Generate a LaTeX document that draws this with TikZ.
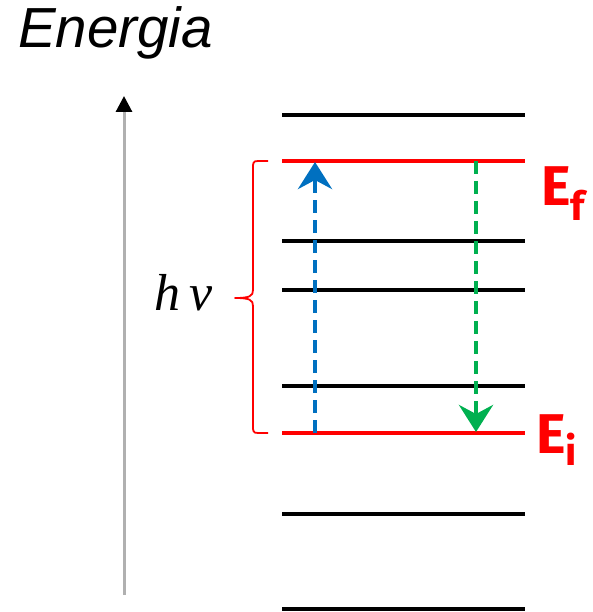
\documentclass[tikz,border=0pt]{standalone}
\usepackage{fontspec}
\setmainfont{Liberation Sans}
\newfontfamily\labfont{Fira Sans}
\newfontfamily\hnufont{Liberation Serif}
\usetikzlibrary{arrows.meta}
\definecolor{axisgray}{RGB}{176,176,176}
\definecolor{lvred}{RGB}{255,0,0}
\definecolor{absblue}{RGB}{0,112,192}
\definecolor{emgreen}{RGB}{0,176,80}
\tikzset{
  level/.style={line width=4pt, black},
  redlevel/.style={line width=4pt, lvred},
  transition/.style={line width=4.5pt, dash pattern=on 13pt off 7pt,
    -{Stealth[length=27pt,width=34pt,inset=9pt]}},
  elabel/.style={text=lvred, inner sep=0pt, font=\labfont\bfseries\fontsize{56}{60}\selectfont}
}
\begin{document}
\begin{tikzpicture}[x=1pt,y=-1pt]
\useasboundingbox (0,0) rectangle (592,612);
% levels
\foreach \n/\y in {a/115,c/241,d/290,e/386,g/514,h/609}{
  \coordinate (L\n w) at (282,\y);
  \coordinate (L\n e) at (525,\y);
  \draw[level] (L\n w) -- (L\n e);
}
\coordinate (Lfw) at (282,161); \coordinate (Lfe) at (525,161);
\coordinate (Liw) at (282,433); \coordinate (Lie) at (525,433);
\draw[redlevel] (Lfw) -- (Lfe);
\draw[redlevel] (Liw) -- (Lie);
% axis
\coordinate (axb) at (124,595);
\coordinate (axt) at (124,96);
\draw[axisgray, line width=3pt, -{Triangle[length=16pt,width=16pt,color=black]}] (axb) -- (axt);
\node[anchor=base west, inner sep=0pt, font=\itshape\fontsize{56.5}{60}\selectfont] (title) at (18,48) {Energia};
% brace
\coordinate (bt) at (268,161);
\coordinate (bb) at (268,433);
\coordinate (btip) at (235,298);
\draw[lvred, line width=1.8pt, line join=round]
  (bt) -- (258,161) .. controls (253,161) and (253,163) .. (253,168)
  -- (253,290) .. controls (253,296) and (250,298) .. (btip)
  .. controls (250,298) and (253,300) .. (253,306)
  -- (253,426) .. controls (253,431) and (253,433) .. (258,433) -- (bb);
\node[anchor=base west, inner sep=0pt, font=\hnufont\itshape\fontsize{52}{60}\selectfont] (hnu) at (154,310) {h\kern9pt ν};
% transitions
\coordinate (bu0) at (315,433); \coordinate (bu1) at (315,162);
\draw[transition, absblue] (bu0) -- (bu1);
\coordinate (gd0) at (476,161); \coordinate (gd1) at (476,432);
\draw[transition, emgreen] (gd0) -- (gd1);
% labels
\node[elabel, anchor=base west] (Ef) at (541,205) {E\raisebox{-16pt}{\fontsize{40}{40}\selectfont f}};
\node[elabel, anchor=base west] (Ei) at (536,453) {E\raisebox{-12pt}{\fontsize{40}{40}\selectfont i}};
\end{tikzpicture}
\end{document}
